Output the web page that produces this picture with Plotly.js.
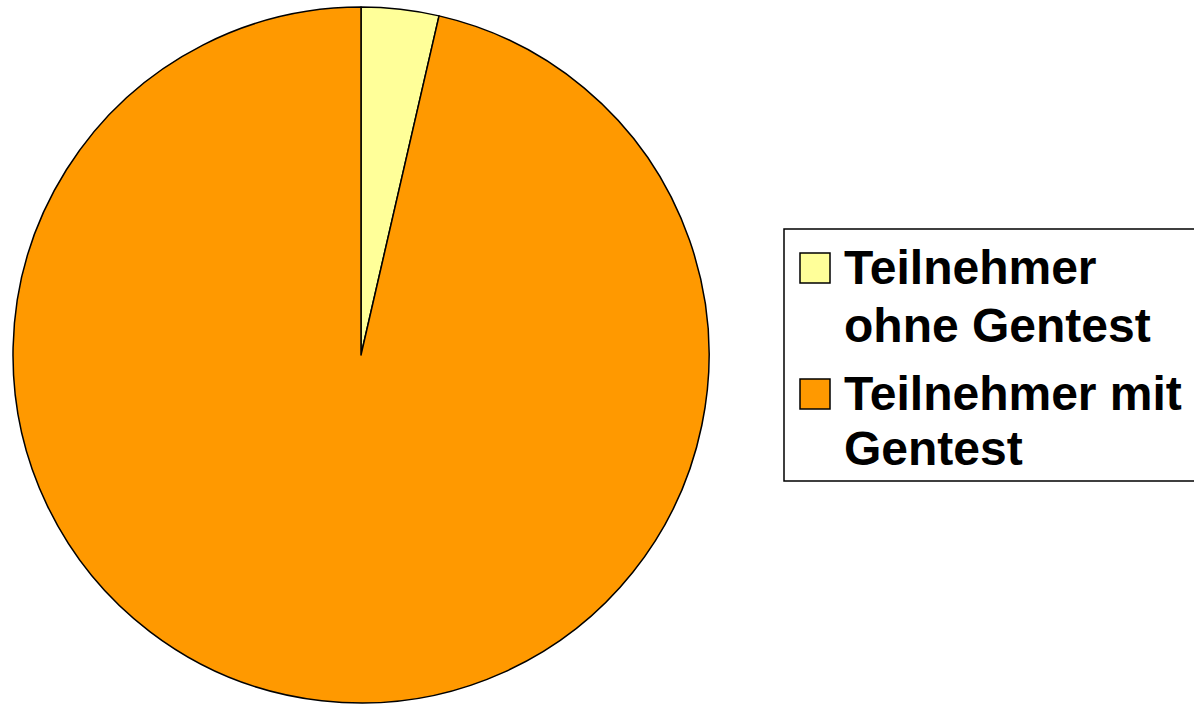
<!DOCTYPE html>
<html>
<head>
<meta charset="utf-8">
<script src="https://cdn.plot.ly/plotly-3.0.1.min.js"></script>
<style>html,body{margin:0;padding:0;background:#fff;}#chart{width:1194px;height:704px;}</style>
</head>
<body>
<div id="chart"></div>
<script>
const labels = ["Teilnehmer<br>ohne Gentest", "Teilnehmer mit<br>Gentest"];
const values = [3.6, 96.4];
const colors = ["#FFFF99", "#FF9900"];

const W = 1194, H = 704;
const px = x => x / W;
const py = y => 1 - y / H;

const trace = {
  type: "pie",
  labels: labels,
  values: values,
  sort: false,
  direction: "clockwise",
  rotation: 0,
  textinfo: "none",
  hoverinfo: "label+value",
  showlegend: false,
  marker: { colors: colors, line: { color: "#000", width: 1.5 } },
  domain: { x: [px(13), px(709)], y: [py(703), py(7)] }
};

// Legend drawn from the same label/colour arrays
const shapes = [{
  type: "rect", xref: "paper", yref: "paper",
  x0: px(784), x1: px(1210), y0: py(481), y1: py(229),
  line: { color: "#000", width: 1.5 }, fillcolor: "rgba(0,0,0,0)"
}];
const annotations = [];
const symTops = [253, 379];
const lineCenters = [[268, 325], [393, 448]];
labels.forEach((lab, i) => {
  shapes.push({
    type: "rect", xref: "paper", yref: "paper",
    x0: px(800), x1: px(830), y0: py(symTops[i] + 30), y1: py(symTops[i]),
    line: { color: "#000", width: 1.5 }, fillcolor: colors[i]
  });
  lab.split("<br>").forEach((ln, j) => {
    annotations.push({
      xref: "paper", yref: "paper", x: px(842), y: py(lineCenters[i][j]),
      xanchor: "left", yanchor: "middle", showarrow: false, text: "<b>" + ln + "</b>",
      font: { family: "Liberation Sans, Arial, sans-serif", size: 48, color: "#000" }
    });
  });
});

const layout = {
  width: W, height: H,
  margin: { l: 0, r: 0, t: 0, b: 0 },
  paper_bgcolor: "#fff",
  showlegend: false,
  shapes: shapes,
  annotations: annotations
};

Plotly.newPlot("chart", [trace], layout, { displayModeBar: false, staticPlot: true });
</script>
</body>
</html>
